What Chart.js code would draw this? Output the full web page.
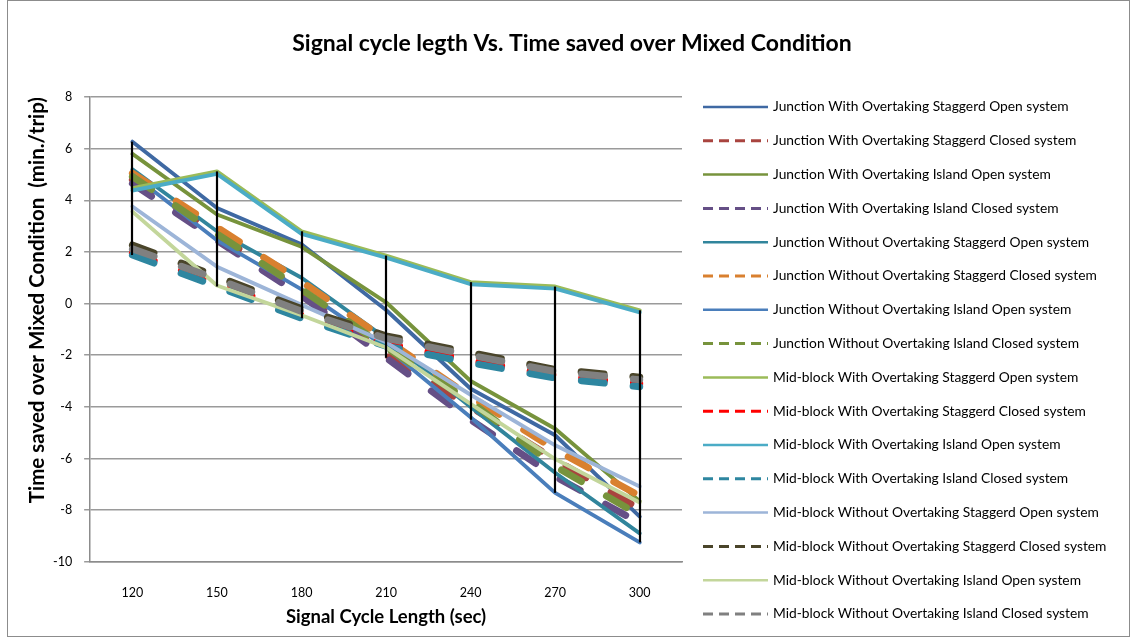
<!DOCTYPE html>
<html>
<head>
<meta charset="utf-8">
<script src="https://cdn.jsdelivr.net/npm/chart.js@4.4.1/dist/chart.umd.min.js"></script>
<style>
  html, body { margin: 0; padding: 0; background: #ffffff; }
  #wrap { width: 1132px; height: 637px; }
</style>
</head>
<body>
<div id="wrap"><canvas id="chart" width="1132" height="637"></canvas></div>
<script>
// Signal cycle length (sec) on the category axis
const cycleLengths = ['120', '150', '180', '210', '240', '270', '300'];

// Time saved over mixed condition (min./trip), one array per scenario
const jnWithStagOpen      = [6.27, 3.70, 2.30, -0.25, -3.30, -5.10, -8.25];
const jnWithStagClosed    = [4.80, 2.70, 0.45, -2.00, -4.00, -6.05, -7.95];
const jnWithIslOpen       = [5.80, 3.45, 2.20, 0.05, -3.00, -4.85, -7.65];
const jnWithIslClosed     = [4.65, 2.45, 0.30, -2.10, -4.50, -6.70, -8.50];
const jnWithoutStagOpen   = [5.20, 2.80, 1.00, -1.35, -4.00, -6.55, -8.90];
const jnWithoutStagClosed = [5.05, 2.95, 0.85, -1.40, -3.60, -5.65, -7.45];
const jnWithoutIslOpen    = [5.00, 2.45, 0.55, -1.70, -4.40, -7.33, -9.25];
const jnWithoutIslClosed  = [4.92, 2.70, 0.55, -1.70, -3.80, -6.30, -8.20];
const mbWithStagOpen      = [4.47, 5.12, 2.80, 1.86, 0.83, 0.66, -0.26];
const mbWithStagClosed    = [1.95, 0.80, -0.45, -1.55, -2.20, -2.78, -3.10];
const mbWithIslOpen       = [4.38, 5.02, 2.70, 1.78, 0.75, 0.58, -0.34];
const mbWithIslClosed     = [1.88, 0.66, -0.57, -1.65, -2.30, -2.88, -3.22];
const mbWithoutStagOpen   = [3.76, 1.43, -0.05, -1.50, -3.53, -5.49, -7.08];
const mbWithoutStagClosed = [2.27, 1.05, -0.20, -1.25, -1.90, -2.55, -2.85];
const mbWithoutIslOpen    = [3.56, 0.70, -0.45, -1.70, -3.88, -6.02, -7.70];
const mbWithoutIslClosed  = [2.12, 0.95, -0.30, -1.35, -2.00, -2.63, -2.95];

// Y axis range and step
const yMin = -10;
const yMax = 8;
const yStep = 2;

const seriesNames = [
  'Junction With Overtaking Staggerd Open system',
  'Junction With Overtaking Staggerd Closed system',
  'Junction With Overtaking Island Open system',
  'Junction With Overtaking Island Closed system',
  'Junction Without Overtaking Staggerd Open system',
  'Junction Without Overtaking Staggerd Closed system',
  'Junction Without Overtaking Island Open system',
  'Junction Without Overtaking Island Closed system',
  'Mid-block With Overtaking Staggerd Open system',
  'Mid-block With Overtaking Staggerd Closed system',
  'Mid-block With Overtaking Island Open system',
  'Mid-block With Overtaking Island Closed system',
  'Mid-block Without Overtaking Staggerd Open system',
  'Mid-block Without Overtaking Staggerd Closed system',
  'Mid-block Without Overtaking Island Open system',
  'Mid-block Without Overtaking Island Closed system'
];

const seriesValues = [
  jnWithStagOpen, jnWithStagClosed, jnWithIslOpen, jnWithIslClosed,
  jnWithoutStagOpen, jnWithoutStagClosed, jnWithoutIslOpen, jnWithoutIslClosed,
  mbWithStagOpen, mbWithStagClosed, mbWithIslOpen, mbWithIslClosed,
  mbWithoutStagOpen, mbWithoutStagClosed, mbWithoutIslOpen, mbWithoutIslClosed
];

// Line styling (colour, dashed?)
const seriesColors = [
  '#3F69A3', '#A9443F', '#77933C', '#654F86',
  '#31859C', '#D9802F', '#4A7EBB', '#77933C',
  '#9BBB59', '#FF0000', '#4BACC6', '#2E86A0',
  '#9DB5D8', '#4A452A', '#C3D69B', '#808080'
];
const seriesDashed = [
  false, true, false, true,
  false, true, false, true,
  false, true, false, true,
  false, true, false, true
];

const FONT = 'Lato, "Open Sans", "Liberation Sans", sans-serif';

const datasets = seriesNames.map((name, i) => ({
  label: name,
  data: seriesValues[i],
  borderColor: seriesColors[i],
  backgroundColor: seriesColors[i],
  borderWidth: seriesDashed[i] ? 7 : 3.9,
  borderDash: seriesDashed[i] ? [23, 29] : [],
  borderCapStyle: 'round',
  borderJoinStyle: 'round',
  pointRadius: 0,
  pointHoverRadius: 0,
  tension: 0,
  fill: false,
  // later series paint over earlier ones
  order: seriesNames.length - i
}));

// White page with a thin frame
const frame = {
  id: 'frame',
  beforeDraw(chart) {
    const ctx = chart.ctx;
    ctx.save();
    ctx.fillStyle = '#ffffff';
    ctx.fillRect(0, 0, chart.width, chart.height);
    ctx.strokeStyle = '#8c8c8c';
    ctx.lineWidth = 1;
    ctx.strokeRect(7.5, 0.5, chart.width - 10, chart.height - 1);
    ctx.restore();
  }
};

// Vertical high-low lines joining the largest and smallest value at each cycle length
const highLow = {
  id: 'highLow',
  afterDatasetsDraw(chart) {
    const { ctx, scales: { x, y } } = chart;
    ctx.save();
    ctx.strokeStyle = '#000000';
    ctx.lineWidth = 2.2;
    cycleLengths.forEach((c, i) => {
      const vals = chart.data.datasets.map(d => d.data[i]);
      const px = Math.round(x.getPixelForValue(i));
      ctx.beginPath();
      ctx.moveTo(px, y.getPixelForValue(Math.max(...vals)));
      ctx.lineTo(px, y.getPixelForValue(Math.min(...vals)));
      ctx.stroke();
    });
    ctx.restore();
  }
};

// Chart heading and the series key on the right
const headingAndKey = {
  id: 'headingAndKey',
  afterDraw(chart) {
    const ctx = chart.ctx;
    ctx.save();
    ctx.fillStyle = '#000000';
    ctx.font = 'bold 23px ' + FONT;
    ctx.textAlign = 'center';
    ctx.textBaseline = 'middle';
    ctx.fillText('Signal cycle legth Vs. Time saved over Mixed Condition', 572, 44);

    const x0 = 703, x1 = 768, textX = 773, top = 107, step = 33.8;
    ctx.font = '13.8px ' + FONT;
    ctx.textAlign = 'left';
    chart.data.datasets.forEach((ds, i) => {
      const yy = top + i * step;
      ctx.beginPath();
      ctx.strokeStyle = seriesColors[i];
      ctx.lineCap = 'butt';
      if (seriesDashed[i]) {
        ctx.lineWidth = 3;
        ctx.setLineDash([10, 6]);
      } else {
        ctx.lineWidth = 2.5;
        ctx.setLineDash([]);
      }
      ctx.moveTo(x0, yy);
      ctx.lineTo(x1, yy);
      ctx.stroke();
      ctx.setLineDash([]);
      ctx.fillStyle = '#000000';
      ctx.fillText(ds.label, textX, yy);
    });
    ctx.restore();
  }
};

new Chart(document.getElementById('chart'), {
  type: 'line',
  data: { labels: cycleLengths, datasets },
  options: {
    responsive: false,
    animation: false,
    devicePixelRatio: 1,
    layout: { padding: { left: 20, right: 450, top: 97, bottom: 5 } },
    plugins: {
      legend: { display: false },
      title: { display: false },
      tooltip: { enabled: false }
    },
    scales: {
      x: {
        type: 'category',
        offset: true,
        grid: { display: false, drawTicks: false },
        border: { display: true, color: '#8c8c8c', width: 1.5 },
        ticks: { color: '#000000', font: { family: FONT, size: 12.5 }, padding: 24 },
        title: {
          display: true,
          text: 'Signal Cycle Length (sec)',
          color: '#000000',
          font: { family: FONT, size: 18.5, weight: 'bold' },
          padding: { top: -19, bottom: 4 }
        }
      },
      y: {
        min: yMin,
        max: yMax,
        ticks: { stepSize: yStep, color: '#000000', font: { family: FONT, size: 12.5 }, padding: 12 },
        grid: { color: '#9a9a9a', lineWidth: 1.5, drawTicks: true, tickLength: 6 },
        border: { display: true, color: '#8c8c8c', width: 1.5 },
        title: {
          display: true,
          align: 'end',
          text: 'Time saved over Mixed Condition  (min./trip)',
          color: '#000000',
          font: { family: FONT, size: 20.5, weight: 'bold' },
          padding: { top: 4.7, bottom: -8.3 }
        }
      }
    }
  },
  plugins: [frame, highLow, headingAndKey]
});
</script>
</body>
</html>
